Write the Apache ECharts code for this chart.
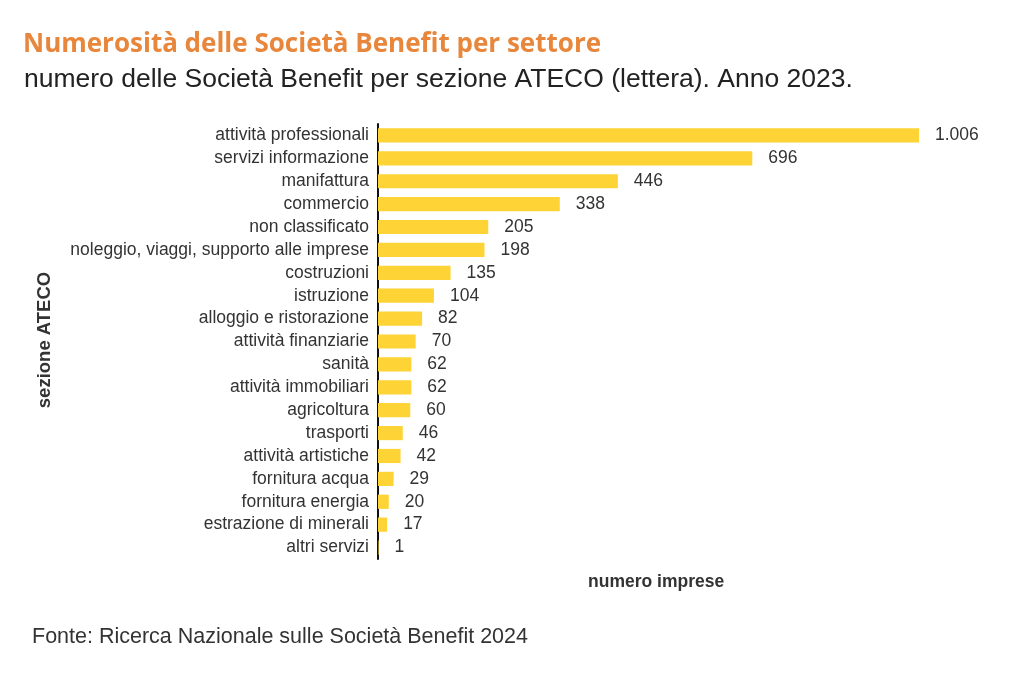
<!DOCTYPE html>
<html><head><meta charset="utf-8">
<script src="https://cdn.jsdelivr.net/npm/echarts@6/dist/echarts.min.js"></script>
<style>html,body{margin:0;padding:0;background:#fff}#c{width:1024px;height:681px}</style>
</head><body><div id="c"></div>
<script>
const categories = ["attività professionali","servizi informazione","manifattura","commercio","non classificato","noleggio, viaggi, supporto alle imprese","costruzioni","istruzione","alloggio e ristorazione","attività finanziarie","sanità","attività immobiliari","agricoltura","trasporti","attività artistiche","fornitura acqua","fornitura energia","estrazione di minerali","altri servizi"];
const values = [1006,696,446,338,205,198,135,104,82,70,62,62,60,46,42,29,20,17,1];

const chart = echarts.init(document.getElementById('c'));
chart.setOption({
  backgroundColor:'#fff',
  animation:false,
  title:[
    {text:'Numerosità delle Società Benefit per settore', left:18, top:27,
     textStyle:{fontFamily:'Open Sans', fontWeight:'bold', fontSize:26, color:'#e8873c'}},
    {text:'numero delle Società Benefit per sezione ATECO (lettera). Anno 2023.', left:19, top:61,
     textStyle:{fontFamily:'Liberation Sans', fontWeight:'normal', fontSize:26.5, color:'#222'}},
    {text:'numero imprese', left:583, top:568,
     textStyle:{fontFamily:'Liberation Sans', fontWeight:'bold', fontSize:17.5, color:'#333'}},
    {text:'Fonte: Ricerca Nazionale sulle Società Benefit 2024', left:27, top:621,
     textStyle:{fontFamily:'Liberation Sans', fontWeight:'normal', fontSize:21.5, color:'#333'}}
  ],
  graphic:[{type:'text', x:45, y:340, rotation:Math.PI/2,
    style:{text:'sezione ATECO', font:'bold 18.5px "Liberation Sans"', fill:'#333', align:'center', verticalAlign:'middle'}}],
  grid:{left:378, right:105, top:124, bottom:122, containLabel:false},
  xAxis:{type:'value', min:0, max:1006, show:false},
  yAxis:{type:'category', data:categories, inverse:true,
    axisLine:{show:true, lineStyle:{color:'#111', width:2}},
    axisTick:{show:false},
    axisLabel:{interval:0, fontFamily:'Liberation Sans', fontSize:17.5, color:'#333', margin:9}},
  series:[{type:'bar', data:values, barWidth:'62%', itemStyle:{color:'#fdd335'},
    label:{show:true, position:'right', distance:16, fontFamily:'Liberation Sans', fontSize:17.5, color:'#333',
      formatter:p=>p.value>=1000 ? String(p.value).replace(/(\d)(\d{3})$/,'$1.$2') : String(p.value)}}]
});
</script></body></html>
